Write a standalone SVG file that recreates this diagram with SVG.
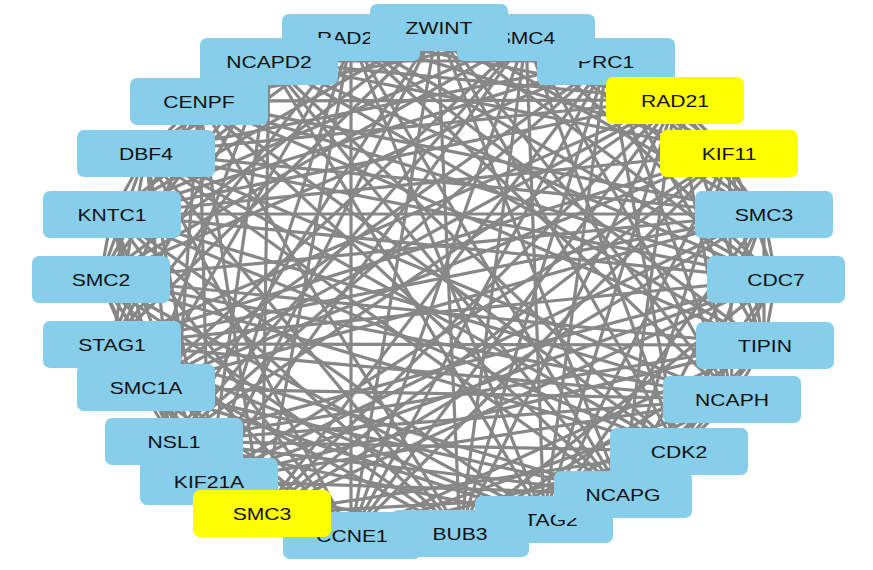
<svg xmlns="http://www.w3.org/2000/svg" width="873" height="570" viewBox="0 0 873 570">
<style>
.e{fill:none;stroke:#878787;stroke-width:3.2;stroke-linecap:round}
.b{fill:#87CEEB}
.y{fill:#FFFF00}
.t{font-family:"Liberation Sans",Arial,sans-serif;font-size:16.5px;text-anchor:middle;fill:#111}
</style>
<rect width="873" height="570" fill="#fff"/>
<g id="edges">
<path class="e" d="M437 27L526 37M437 27L269 61M437 27L607 61M437 27L199 101M437 27L675 100M437 27L112 214M437 27L764 214M437 27L100 279M437 27L776 279M437 27L112 344M437 27L732 399M437 27L174 441M437 27L679 451M437 27L209 481M437 27L622 494M437 27L351 536M437 27L460 533"/>
<path class="e" d="M351 37L526 37M351 37L199 101M351 37L675 100M351 37L146 153M351 37L729 153M351 37L112 214M351 37L776 279M351 37L112 344M351 37L764 345M351 37L146 388M351 37L732 399M351 37L209 481M351 37L622 494M351 37L262 514M351 37L544 519M351 37L351 536"/>
<path class="e" d="M526 37L269 61M526 37L607 61M526 37L199 101M526 37L729 153M526 37L112 214M526 37L764 214M526 37L100 279M526 37L776 279M526 37L146 388M526 37L732 399M526 37L174 441M526 37L679 451M526 37L209 481M526 37L544 519M526 37L351 536M526 37L460 533"/>
<path class="e" d="M269 61L607 61M269 61L199 101M269 61L675 100M269 61L146 153M269 61L729 153M269 61L100 279M269 61L776 279M269 61L112 344M269 61L764 345M269 61L146 388M269 61L679 451M269 61L209 481M269 61L622 494M269 61L262 514M269 61L544 519"/>
<path class="e" d="M607 61L146 153M607 61L729 153M607 61L112 214M607 61L764 214M607 61L100 279M607 61L764 345M607 61L146 388M607 61L732 399M607 61L174 441M607 61L679 451M607 61L262 514M607 61L544 519M607 61L351 536M607 61L460 533"/>
<path class="e" d="M199 101L675 100M199 101L146 153M199 101L764 214M199 101L100 279M199 101L776 279M199 101L112 344M199 101L764 345M199 101L174 441M199 101L679 451M199 101L209 481M199 101L622 494M199 101L262 514M199 101L460 533"/>
<path class="e" d="M675 100L146 153M675 100L729 153M675 100L112 214M675 100L764 214M675 100L112 344M675 100L764 345M675 100L146 388M675 100L732 399M675 100L174 441M675 100L622 494M675 100L262 514M675 100L544 519M675 100L351 536M675 100L460 533"/>
<path class="e" d="M146 153L112 214M146 153L764 214M146 153L100 279M146 153L776 279M146 153L112 344M146 153L732 399M146 153L174 441M146 153L679 451M146 153L209 481M146 153L622 494M146 153L351 536M146 153L460 533"/>
<path class="e" d="M729 153L112 214M729 153L776 279M729 153L112 344M729 153L764 345M729 153L146 388M729 153L732 399M729 153L209 481M729 153L622 494M729 153L262 514M729 153L544 519M729 153L351 536"/>
<path class="e" d="M112 214L764 214M112 214L100 279M112 214L776 279M112 214L146 388M112 214L732 399M112 214L174 441M112 214L679 451M112 214L209 481M112 214L544 519M112 214L351 536M112 214L460 533"/>
<path class="e" d="M764 214L100 279M764 214L776 279M764 214L112 344M764 214L764 345M764 214L146 388M764 214L679 451M764 214L209 481M764 214L622 494M764 214L262 514M764 214L544 519"/>
<path class="e" d="M100 279L764 345M100 279L146 388M100 279L732 399M100 279L174 441M100 279L679 451M100 279L262 514M100 279L544 519M100 279L351 536M100 279L460 533"/>
<path class="e" d="M776 279L112 344M776 279L764 345M776 279L174 441M776 279L679 451M776 279L209 481M776 279L622 494M776 279L262 514M776 279L460 533"/>
<path class="e" d="M112 344L764 345M112 344L146 388M112 344L732 399M112 344L174 441M112 344L622 494M112 344L262 514M112 344L544 519M112 344L351 536M112 344L460 533"/>
<path class="e" d="M764 345L732 399M764 345L174 441M764 345L679 451M764 345L209 481M764 345L622 494M764 345L351 536M764 345L460 533"/>
<path class="e" d="M146 388L732 399M146 388L209 481M146 388L622 494M146 388L262 514M146 388L544 519M146 388L351 536"/>
<path class="e" d="M732 399L174 441M732 399L679 451M732 399L209 481M732 399L544 519M732 399L351 536M732 399L460 533"/>
<path class="e" d="M174 441L679 451M174 441L209 481M174 441L622 494M174 441L262 514M174 441L544 519"/>
<path class="e" d="M679 451L262 514M679 451L544 519M679 451L351 536M679 451L460 533"/>
<path class="e" d="M209 481L622 494M209 481L262 514M209 481L460 533"/>
<path class="e" d="M622 494L262 514M622 494L544 519M622 494L351 536M622 494L460 533"/>
<path class="e" d="M262 514L351 536M262 514L460 533M544 519L351 536M351 536L460 533"/>
</g>
<g id="PRC1"><rect class="b" x="537" y="38" width="138" height="47" rx="7"/><text class="t" transform="translate(606 68) scale(1.28 1)">PRC1</text></g>
<g id="RAD21_top"><rect class="b" x="282" y="14" width="138" height="47" rx="7"/><text class="t" transform="translate(351 44) scale(1.28 1)">RAD21</text></g>
<g id="SMC4"><rect class="b" x="457" y="14" width="138" height="47" rx="7"/><text class="t" transform="translate(526 44) scale(1.28 1)">SMC4</text></g>
<g id="ZWINT"><rect class="b" x="370" y="4" width="138" height="47" rx="7"/><text class="t" transform="translate(439 34) scale(1.28 1)">ZWINT</text></g>
<g id="NCAPD2"><rect class="b" x="200" y="38" width="138" height="47" rx="7"/><text class="t" transform="translate(269 68) scale(1.28 1)">NCAPD2</text></g>
<g id="CENPF"><rect class="b" x="130" y="78" width="138" height="47" rx="7"/><text class="t" transform="translate(199 108) scale(1.28 1)">CENPF</text></g>
<g id="RAD21"><rect class="y" x="606" y="77" width="138" height="47" rx="7"/><text class="t" transform="translate(675 107) scale(1.28 1)">RAD21</text></g>
<g id="DBF4"><rect class="b" x="77" y="130" width="138" height="47" rx="7"/><text class="t" transform="translate(146 160) scale(1.28 1)">DBF4</text></g>
<g id="KIF11"><rect class="y" x="660" y="130" width="138" height="47" rx="7"/><text class="t" transform="translate(729 160) scale(1.28 1)">KIF11</text></g>
<g id="KNTC1"><rect class="b" x="43" y="191" width="138" height="47" rx="7"/><text class="t" transform="translate(112 221) scale(1.28 1)">KNTC1</text></g>
<g id="SMC3_right"><rect class="b" x="695" y="191" width="138" height="47" rx="7"/><text class="t" transform="translate(764 221) scale(1.28 1)">SMC3</text></g>
<g id="SMC2"><rect class="b" x="32" y="256" width="138" height="47" rx="7"/><text class="t" transform="translate(101 286) scale(1.28 1)">SMC2</text></g>
<g id="CDC7"><rect class="b" x="707" y="256" width="138" height="47" rx="7"/><text class="t" transform="translate(776 286) scale(1.28 1)">CDC7</text></g>
<g id="STAG1"><rect class="b" x="43" y="321" width="138" height="47" rx="7"/><text class="t" transform="translate(112 351) scale(1.28 1)">STAG1</text></g>
<g id="TIPIN"><rect class="b" x="696" y="322" width="138" height="47" rx="7"/><text class="t" transform="translate(765 352) scale(1.28 1)">TIPIN</text></g>
<g id="SMC1A"><rect class="b" x="77" y="364" width="138" height="47" rx="7"/><text class="t" transform="translate(146 394) scale(1.28 1)">SMC1A</text></g>
<g id="NCAPH"><rect class="b" x="663" y="376" width="138" height="47" rx="7"/><text class="t" transform="translate(732 406) scale(1.28 1)">NCAPH</text></g>
<g id="NSL1"><rect class="b" x="105" y="418" width="138" height="47" rx="7"/><text class="t" transform="translate(174 448) scale(1.28 1)">NSL1</text></g>
<g id="CDK2"><rect class="b" x="610" y="428" width="138" height="47" rx="7"/><text class="t" transform="translate(679 458) scale(1.28 1)">CDK2</text></g>
<g id="KIF21A"><rect class="b" x="140" y="458" width="138" height="47" rx="7"/><text class="t" transform="translate(209 488) scale(1.28 1)">KIF21A</text></g>
<g id="STAG2"><rect class="b" x="475" y="496" width="138" height="47" rx="7"/><text class="t" transform="translate(544 526) scale(1.28 1)">STAG2</text></g>
<g id="NCAPG"><rect class="b" x="554" y="471" width="138" height="47" rx="7"/><text class="t" transform="translate(623 501) scale(1.28 1)">NCAPG</text></g>
<g id="CCNE1"><rect class="b" x="283" y="512" width="138" height="47" rx="7"/><text class="t" transform="translate(352 542) scale(1.28 1)">CCNE1</text></g>
<g id="BUB3"><rect class="b" x="391" y="510" width="138" height="47" rx="7"/><text class="t" transform="translate(460 540) scale(1.28 1)">BUB3</text></g>
<g id="SMC3"><rect class="y" x="193" y="490" width="138" height="47" rx="7"/><text class="t" transform="translate(262 520) scale(1.28 1)">SMC3</text></g>
</svg>
